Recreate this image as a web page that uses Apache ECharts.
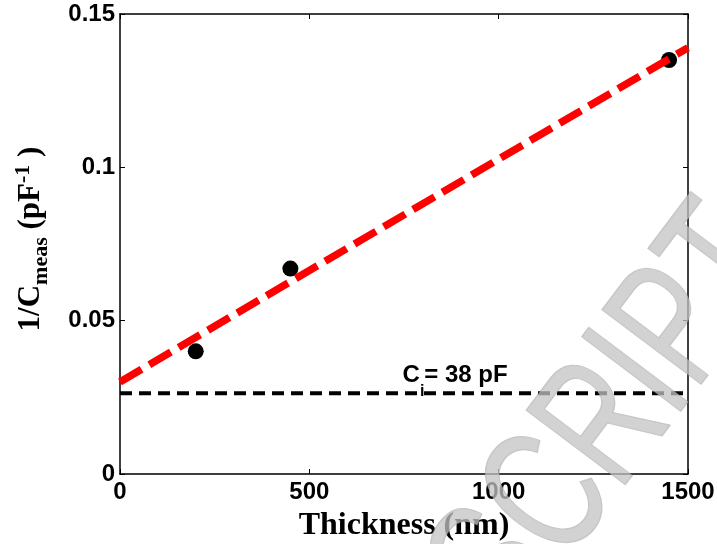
<!DOCTYPE html>
<html><head><meta charset="utf-8">
<script src="https://cdn.jsdelivr.net/npm/echarts@6/dist/echarts.min.js"></script>
<style>html,body{margin:0;padding:0;background:#fff}#c{width:717px;height:544px}</style>
</head><body><div id="c"></div>
<script>
// Data
const thickness = [200, 450, 1450];
const invC = [0.040, 0.067, 0.135];
const fitX = [0, 1500];
const fitY = [0.030, 0.139];
const ciX = [0, 1500];
const ciY = [0.0263, 0.0263];
const ciLabelPos = [885, 0.0263];
const xTicks = [0, 500, 1000, 1500];
const yTicks = [0, 0.05, 0.1, 0.15];

const chart = echarts.init(document.getElementById('c'));
const tickFont = {fontFamily: 'Arial, "Liberation Sans", sans-serif', fontWeight: 'bold', fontSize: 24, color: '#000'};
const axisLineStyle = {onZero: false, lineStyle: {color: '#000', width: 1.5}};
const tickStyle = {inside: true, length: 5, lineStyle: {color: '#000', width: 1}};
const zip = (a, b) => a.map((v, i) => [v, b[i]]);
const serif = '"Liberation Serif", "Times New Roman", serif';

chart.setOption({
  animation: false,
  backgroundColor: '#fff',
  grid: {left: 120, right: 29, top: 14, bottom: 70, containLabel: false, outerBoundsMode: 'none'},
  xAxis: [{
    type: 'value', min: 0, max: 1500, interval: 500,
    axisLine: axisLineStyle, axisTick: tickStyle,
    splitLine: {show: false},
    axisLabel: Object.assign({margin: 6, formatter: v => xTicks.includes(v) ? String(v) : ''}, tickFont),
    name: 'Thickness (nm)', nameLocation: 'middle', nameGap: 36,
    nameTextStyle: {fontFamily: serif, fontWeight: 'bold', fontSize: 32, color: '#000'}
  }, {
    type: 'value', position: 'top', min: 0, max: 1500, interval: 500,
    axisLine: axisLineStyle, axisTick: tickStyle,
    axisLabel: {show: false}, splitLine: {show: false}
  }],
  yAxis: [{
    type: 'value', min: 0, max: 0.15, interval: 0.05,
    axisLine: axisLineStyle, axisTick: tickStyle,
    splitLine: {show: false},
    axisLabel: Object.assign({margin: 5, formatter: v => { const t = yTicks.find(y => Math.abs(y - v) < 1e-9); return t === undefined ? '' : String(t); }}, tickFont),
    name: '{a|1/C}{sub|meas}{a| (pF}{sup|-1}{a| )}', nameLocation: 'middle', nameRotate: 90, nameGap: 67,
    nameTextStyle: {
      padding: [0, 0, 0, 10],
      rich: {
        a: {fontFamily: serif, fontWeight: 'bold', fontSize: 31, color: '#000', lineHeight: 44, verticalAlign: 'middle'},
        sub: {fontFamily: serif, fontWeight: 'bold', fontSize: 22, color: '#000', lineHeight: 44, verticalAlign: 'bottom', padding: [0, 0, 1, 0]},
        sup: {fontFamily: serif, fontWeight: 'bold', fontSize: 22, color: '#000', lineHeight: 44, verticalAlign: 'top', padding: [3, 0, 0, 0]}
      }
    }
  }, {
    type: 'value', position: 'right', min: 0, max: 0.15, interval: 0.05,
    axisLine: axisLineStyle, axisTick: tickStyle,
    axisLabel: {show: false}, splitLine: {show: false}
  }],
  graphic: [{
    type: 'text', x: 752, y: 234, rotation: 53 * Math.PI / 180, scaleX: 0.7, z: 100, silent: true,
    style: {text: 'MANUSCRIPT', font: '180px Arial, "Liberation Sans", sans-serif', align: 'right', verticalAlign: 'middle',
      fill: 'rgba(195,195,195,0.75)', stroke: 'rgba(150,150,150,0.5)', lineWidth: 1.5,
      shadowColor: 'rgba(120,120,120,0.35)', shadowBlur: 3, shadowOffsetX: 1, shadowOffsetY: 2}
  }],
  series: [{
    type: 'line', data: zip(ciX, ciY), symbol: 'none', z: 2,
    lineStyle: {color: '#000', width: 4, type: [12, 7]}
  }, {
    type: 'line', data: zip(fitX, fitY), symbol: 'none', z: 4,
    lineStyle: {color: '#ff0000', width: 7.5, type: [25, 9]}
  }, {
    type: 'scatter', data: zip(thickness, invC), symbol: 'circle', symbolSize: 16, z: 3,
    itemStyle: {color: '#000', opacity: 1}
  }, {
    type: 'scatter', data: [ciLabelPos], symbolSize: 0, z: 5, silent: true,
    itemStyle: {opacity: 1},
    label: {
      show: true, position: 'top', distance: 4,
      formatter: '{b|C}{s|i}{b|= 38 pF}',
      rich: {
        b: {fontFamily: 'Arial, "Liberation Sans", sans-serif', fontWeight: 'bold', fontSize: 24, color: '#000', lineHeight: 26, verticalAlign: 'top'},
        s: {fontFamily: 'Arial, "Liberation Sans", sans-serif', fontWeight: 'bold', fontSize: 16, color: '#000', lineHeight: 26, verticalAlign: 'bottom', padding: [0, 0, -10, 0]}
      }
    }
  }]
});
</script></body></html>
